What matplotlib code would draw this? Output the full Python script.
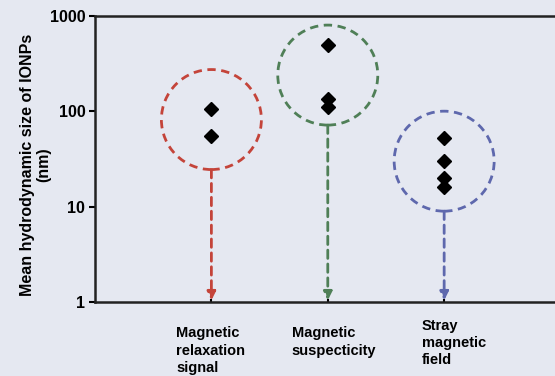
import matplotlib
matplotlib.use("Agg")
import matplotlib.pyplot as plt
from matplotlib.patches import Circle
from matplotlib.transforms import ScaledTranslation, blended_transform_factory

plt.rcParams["font.family"] = ["Liberation Sans", "DejaVu Sans"]
plt.rcParams["font.weight"] = "bold"

# dados
categories = ["Magnetic\nrelaxation\nsignal", "Magnetic\nsuspecticity", "Stray\nmagnetic\nfield"]
sizes = [
    [105, 55],
    [500, 135, 110],
    [52, 30, 20, 16],
]
circle_centres = [82, 240, 30]  # centro de cada círculo (nm)
colors = ["#c4443a", "#4f7f57", "#5e68ad"]
ytick_vals = [1, 10, 100, 1000]
ytick_labels = ["1", "10", "100", "1000"]

bg = "#e5e8f1"
fig = plt.figure(figsize=(5.55, 3.76), dpi=100, facecolor=bg)
ax = fig.add_axes([95 / 555, 1 - 302 / 376, 1 - 95 / 555 + 0.01, (302 - 16) / 376])
ax.set_facecolor(bg)

ax.set_yscale("log")
ax.set_ylim(1, 1000)
ax.set_xlim(-1, 3)
ax.set_yticks(ytick_vals)
ax.set_yticklabels(ytick_labels)
ax.yaxis.set_minor_locator(matplotlib.ticker.NullLocator())
ax.set_xticks(range(len(categories)))
ax.set_xticklabels([])
ax.tick_params(axis="y", length=4, width=1.5, labelsize=11.5, pad=3)
ax.tick_params(axis="x", length=2, width=1.5, direction="in")

for side in ["left", "top", "bottom"]:
    ax.spines[side].set_linewidth(1.8)
    ax.spines[side].set_color("#222222")
ax.spines["right"].set_visible(False)

radius_in = 0.5  # raio dos círculos em polegadas
for i, (vals, yc, col) in enumerate(zip(sizes, circle_centres, colors)):
    ax.plot([i] * len(vals), vals, "D", color="black", markersize=7, zorder=4)
    tr = fig.dpi_scale_trans + ScaledTranslation(i, yc, ax.transData)
    ax.add_patch(Circle((0, 0), radius_in, transform=tr, fill=False, edgecolor=col,
                        linestyle=(0, (3, 2)), linewidth=2, zorder=3))
    ax.annotate("", xy=(i, 1.04), xytext=(i, yc),
                arrowprops=dict(arrowstyle="-|>,head_length=0.5,head_width=0.25",
                                color=col, linewidth=2, linestyle=(0, (3, 2)),
                                shrinkA=radius_in * 72, shrinkB=0),
                zorder=3)

trans = blended_transform_factory(ax.transData, ax.transAxes)
label_dx = [-0.3, -0.31, -0.19]
label_y = [-0.085, -0.085, -0.058]
for i, (lbl, dx, y) in enumerate(zip(categories, label_dx, label_y)):
    ax.text(i + dx, y, lbl, transform=trans, ha="left", va="top", fontsize=10.5,
            fontweight="bold", linespacing=1.3)

ax.set_ylabel("Mean hydrodynamic size of IONPs\n(nm)", fontsize=11.5, fontweight="bold",
              linespacing=1.1)
ax.yaxis.set_label_coords(-0.095, 0.48)

fig.savefig("out.png", dpi=100, facecolor=bg)
